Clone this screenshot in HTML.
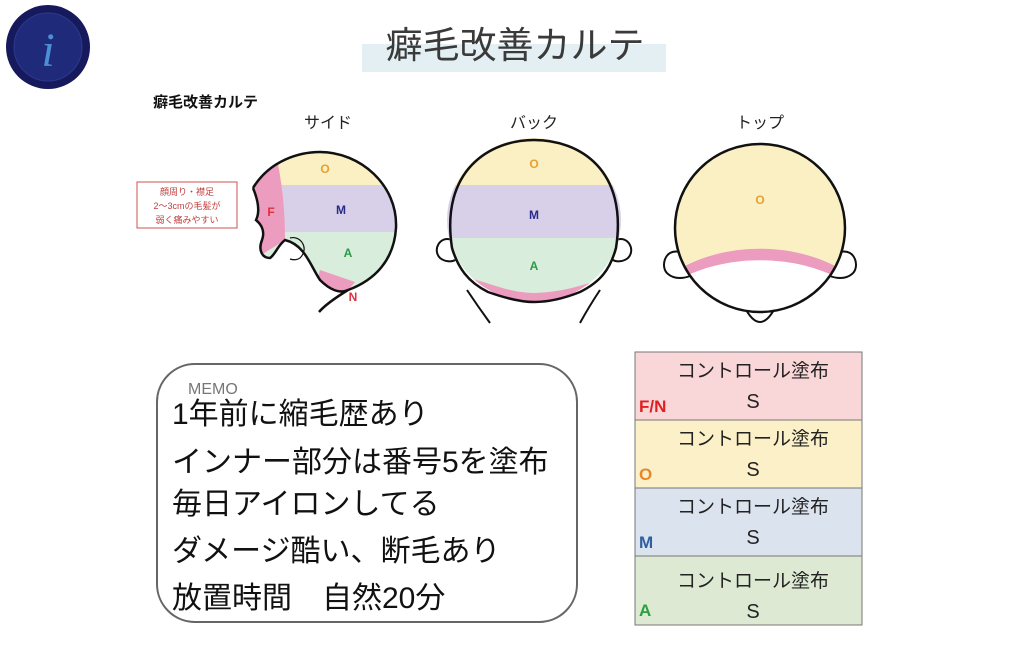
<!DOCTYPE html>
<html><head><meta charset="utf-8"><style>
body{margin:0;width:1024px;height:649px;background:#fff;overflow:hidden;font-family:"Liberation Sans","Noto Sans CJK JP",sans-serif}
svg{position:absolute;left:0;top:0}
</style></head><body>
<svg width="1024" height="649" viewBox="0 0 1024 649" font-family="Liberation Sans, Noto Sans CJK JP, sans-serif">
<!-- logo -->
<circle cx="48" cy="47" r="42" fill="#161a5c"/>
<circle cx="48" cy="47" r="34" fill="#1f2a7a" stroke="#2c3a8c" stroke-width="1"/>
<text x="48" y="66" font-size="48" font-style="italic" font-family="Liberation Serif, serif" fill="#4b8fd6" text-anchor="middle">i</text>
<!-- title -->
<rect x="362" y="44" width="304" height="28" fill="#e3eff3"/>
<text x="515" y="58" font-size="37" fill="#3a3a3a" text-anchor="middle">癖毛改善カルテ</text>
<text x="153" y="107" font-size="15" font-weight="bold" fill="#111">癖毛改善カルテ</text>
<text x="328" y="128" font-size="16" fill="#222" text-anchor="middle">サイド</text>
<text x="534" y="128" font-size="16" fill="#222" text-anchor="middle">バック</text>
<text x="760" y="128" font-size="16" fill="#222" text-anchor="middle">トップ</text>
<!-- note box -->
<rect x="137" y="182" width="100" height="46" fill="#fff" stroke="#d05050" stroke-width="1"/>
<text x="187" y="195" font-size="9" fill="#c04040" text-anchor="middle">顔周り・襟足</text>
<text x="187" y="209" font-size="9" fill="#c04040" text-anchor="middle">2～3cmの毛髪が</text>
<text x="187" y="223" font-size="9" fill="#c04040" text-anchor="middle">弱く痛みやすい</text>
<!-- side head -->
<defs>
<clipPath id="sh"><path d="M253,188 C270,160 300,152 320,152 C360,152 398,185 396,228 C394,260 375,280 348,290 C340,294 330,290 320,280 C310,265 305,245 285,240 C278,245 275,255 270,258 C262,258 258,250 262,240 C265,232 262,225 256,220 C260,212 258,200 253,188 Z"/></clipPath>
<clipPath id="bh"><ellipse cx="534" cy="220" rx="87" ry="82"/></clipPath>
<clipPath id="th"><ellipse cx="760" cy="228" rx="85" ry="84"/></clipPath>
</defs>
<g clip-path="url(#sh)">
<rect x="250" y="145" width="150" height="40" fill="#faf0c4"/>
<rect x="250" y="185" width="150" height="47" fill="#d8cfe8"/>
<rect x="250" y="232" width="150" height="65" fill="#d8eddb"/>
<path d="M250,150 L275,150 C282,180 285,210 285,240 L250,262 Z" fill="#ec9cbf"/>
<path d="M320,270 L355,282 L340,300 L315,290 Z" fill="#ec9cbf"/>
</g>
<path d="M253,188 C270,160 300,152 320,152 C360,152 398,185 396,228 C394,260 375,280 348,290 C335,298 325,305 319,312 M348,290 C340,294 330,290 320,280 C310,265 305,245 285,240 C278,245 275,255 270,258 C262,258 258,250 262,240 C265,232 262,225 256,220 C260,212 258,200 253,188" fill="none" stroke="#111" stroke-width="2.5"/>
<path d="M290,238 C300,235 310,248 300,258 C297,260 293,260 290,259" fill="none" stroke="#111" stroke-width="1.2"/>
<g font-size="12" font-weight="bold" text-anchor="middle">
<text x="325" y="173" fill="#e8a030">O</text>
<text x="341" y="214" fill="#2a2a8a">M</text>
<text x="348" y="257" fill="#2a9a4a">A</text>
<text x="271" y="216" fill="#e03040">F</text>
<text x="353" y="301" fill="#e03040">N</text>
</g>
<!-- back head -->
<path d="M452,240 C440,235 432,250 440,258 C445,262 452,262 455,260" fill="#fff" stroke="#111" stroke-width="2"/>
<path d="M616,240 C628,235 636,250 628,258 C623,262 616,262 613,260" fill="#fff" stroke="#111" stroke-width="2"/>
<g clip-path="url(#bh)">
<rect x="440" y="130" width="190" height="55" fill="#faf0c4"/>
<rect x="440" y="185" width="190" height="53" fill="#d8cfe8"/>
<rect x="440" y="238" width="190" height="70" fill="#d8eddb"/>
<path d="M440,272 C490,280 500,292 534,293 C570,292 590,282 630,270 L630,310 L440,310 Z" fill="#ec9cbf"/>
</g>
<path d="M452,248 C440,170 490,140 534,140 C580,140 628,170 616,248 C610,270 600,282 580,292 C560,300 545,302 534,302 C520,302 505,298 488,292 C468,282 458,268 452,248 Z" fill="none" stroke="#111" stroke-width="2.5"/>
<path d="M467,290 C475,302 482,312 490,323 M600,290 C592,302 586,312 580,323" fill="none" stroke="#111" stroke-width="2"/>
<g font-size="12" font-weight="bold" text-anchor="middle">
<text x="534" y="168" fill="#e8a030">O</text>
<text x="534" y="219" fill="#2a2a8a">M</text>
<text x="534" y="270" fill="#2a9a4a">A</text>
</g>
<!-- top head -->
<path d="M680,252 C664,248 660,268 668,274 C675,280 685,278 690,276" fill="#fff" stroke="#111" stroke-width="2"/>
<path d="M840,252 C856,248 860,268 852,274 C845,280 835,278 830,276" fill="#fff" stroke="#111" stroke-width="2"/>
<path d="M744,306 C750,318 755,322 760,322 C765,322 770,318 776,306 Z" fill="#fff" stroke="#111" stroke-width="2"/>
<g clip-path="url(#th)">
<rect x="670" y="140" width="180" height="180" fill="#faf0c4"/>
<path d="M670,275 C720,240 800,240 850,275 L850,320 L670,320 Z" fill="#ec9cbf"/>
<path d="M670,285 C720,252 800,252 850,285 L850,320 L670,320 Z" fill="#fff"/>
</g>
<ellipse cx="760" cy="228" rx="85" ry="84" fill="none" stroke="#111" stroke-width="2.5"/>
<text x="760" y="204" font-size="12" font-weight="bold" fill="#e8a030" text-anchor="middle">O</text>
<!-- memo -->
<rect x="157" y="364" width="420" height="258" rx="38" fill="#fff" stroke="#666" stroke-width="2"/>
<text x="188" y="394" font-size="16" fill="#777">MEMO</text>
<g font-size="30" fill="#111">
<text x="172" y="424">1年前に縮毛歴あり</text>
<text x="172" y="472">インナー部分は番号5を塗布</text>
<text x="172" y="514">毎日アイロンしてる</text>
<text x="172" y="561">ダメージ酷い、断毛あり</text>
<text x="172" y="608">放置時間　自然20分</text>
</g>
<!-- table -->
<g stroke="#777" stroke-width="1">
<rect x="635" y="352" width="227" height="68" fill="#f9d6d8"/>
<rect x="635" y="420" width="227" height="68" fill="#fbf0c8"/>
<rect x="635" y="488" width="227" height="68" fill="#dbe3ef"/>
<rect x="635" y="556" width="227" height="69" fill="#dde9d3"/>
</g>
<g font-size="19" fill="#222" text-anchor="middle">
<text x="753" y="377">コントロール塗布</text><text x="753" y="408" font-size="20">S</text>
<text x="753" y="445">コントロール塗布</text><text x="753" y="476" font-size="20">S</text>
<text x="753" y="513">コントロール塗布</text><text x="753" y="544" font-size="20">S</text>
<text x="753" y="587">コントロール塗布</text><text x="753" y="618" font-size="20">S</text>
</g>
<g font-size="17" font-weight="bold">
<text x="639" y="412" fill="#e02020">F/N</text>
<text x="639" y="480" fill="#e8882a">O</text>
<text x="639" y="548" fill="#2d5fa0">M</text>
<text x="639" y="616" fill="#2aa040">A</text>
</g>
</svg>
</body></html>
